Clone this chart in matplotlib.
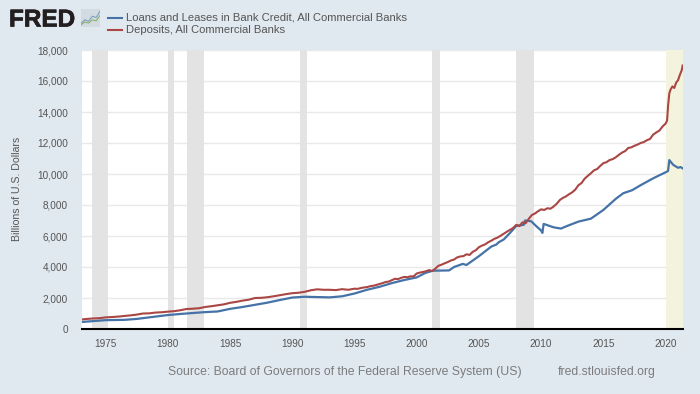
import matplotlib
matplotlib.use('Agg')
import matplotlib.pyplot as plt
import matplotlib.patheffects as pe

plt.rcParams['font.family'] = ['Liberation Sans', 'DejaVu Sans']

# --- Values ---
LOANS_YEARS = [1973.0, 1974.0, 1975.0, 1976.5, 1977.5, 1978.5, 1980.0, 1981.0, 1982.0, 1983.0, 1984.0, 1985.0, 1986.0,
               1987.0, 1988.0, 1989.0, 1990.0, 1991.0, 1992.0, 1993.0, 1994.0, 1995.0, 1996.0, 1997.0, 1998.0, 1999.0,
               2000.0, 2000.7, 2001.3, 2002.6, 2003.0, 2003.7, 2004.0, 2005.0, 2006.0, 2006.4, 2006.6, 2007.0, 2007.5,
               2008.0, 2008.6, 2008.7, 2009.2, 2009.6, 2010.0, 2010.1, 2010.2, 2011.0, 2011.6, 2012.0, 2013.0, 2014.0,
               2015.0, 2016.0, 2016.6, 2017.3, 2018.0, 2019.0, 2020.1, 2020.2, 2020.3, 2020.6, 2021.0, 2021.2, 2021.4]
LOANS_VALUES = [450, 510, 570, 590, 650, 750, 900, 970, 1030, 1090, 1130, 1300, 1420,
                1560, 1700, 1870, 2030, 2080, 2060, 2040, 2110, 2290, 2530, 2720, 2960, 3160,
                3330, 3620, 3760, 3780, 4000, 4200, 4130, 4700, 5320, 5450, 5600, 5780, 6200,
                6650, 6720, 7000, 6950, 6640, 6350, 6200, 6780, 6560, 6480, 6620, 6930, 7120,
                7680, 8400, 8760, 8950, 9280, 9720, 10150, 10200, 10900, 10600, 10400, 10450, 10350]

# half-yearly to 1994, quarterly from 1995, then the 2020 jump point by point
DEPOSITS_YEARS = ([1973 + i * 0.5 for i in range(44)]
                  + [1995 + i * 0.25 for i in range(101)]
                  + [2020.12, 2020.2, 2020.3, 2020.4, 2020.55, 2020.7, 2020.85, 2021.0, 2021.15, 2021.3, 2021.37])
DEPOSITS_VALUES = [610, 650, 680, 700, 750, 770, 800, 840, 880, 930, 1000, 1010, 1060, 1080, 1120, 1150,
                   1210, 1290, 1310, 1340, 1420, 1470, 1530, 1590, 1690, 1750, 1830, 1890, 2000, 2010,
                   2050, 2110, 2180, 2250, 2310, 2340, 2400, 2500, 2560, 2530, 2530, 2510, 2570, 2530,
                   2600, 2590, 2640, 2680, 2700, 2760, 2790, 2840, 2900, 2960, 3030, 3060,
                   3150, 3240, 3220, 3300, 3360, 3340, 3400, 3390, 3580, 3640, 3680, 3730,
                   3800, 3740, 3900, 4080, 4150, 4240, 4320, 4420, 4480, 4620, 4680, 4700,
                   4820, 4780, 4980, 5080, 5280, 5380, 5460, 5600, 5700, 5820, 5900, 6020,
                   6150, 6280, 6400, 6520, 6720, 6640, 6880, 6820, 7100, 7350, 7450, 7600,
                   7720, 7680, 7790, 7760, 7900, 8080, 8320, 8460, 8560, 8700, 8820, 9000,
                   9280, 9420, 9700, 9880, 10050, 10240, 10320, 10520, 10700, 10760, 10900, 10960,
                   11080, 11240, 11380, 11480, 11680, 11720, 11820, 11900, 12000, 12060, 12180, 12260,
                   12540, 12680, 12800, 13060, 13250,
                   13450, 14400, 15200, 15450, 15650, 15550, 15900, 16050, 16400, 16700, 17000]

RECESSIONS = [(1973.9, 1975.2), (1980.0, 1980.5), (1981.5, 1982.9), (1990.6, 1991.2), (2001.2, 2001.9), (2007.95, 2009.4)]
HIGHLIGHT = (2020.0, 2021.4)

X_TICKS = [1975, 1980, 1985, 1990, 1995, 2000, 2005, 2010, 2015, 2020]
Y_TICKS = [0, 2000, 4000, 6000, 8000, 10000, 12000, 14000, 16000, 18000]

BG = '#e1e9f0'
TEXT = '#555555'
BLUE = '#4572a7'
RED = '#aa4643'

W, H = 700, 394
fig = plt.figure(figsize=(W / 100, H / 100), dpi=100, facecolor=BG)

# plot area in pixels: x 82-683, y 50-329
ax = fig.add_axes([82 / W, 1 - 329 / H, (683 - 82) / W, (329 - 50) / H])
ax.set_xlim(1973.1, 2021.4)
ax.set_ylim(0, 18000)

for start, end in RECESSIONS:
    ax.axvspan(start, end, color='#e3e3e3', lw=0, zorder=1)
ax.axvspan(HIGHLIGHT[0], HIGHLIGHT[1], color='#f4f4de', lw=0, zorder=1)

ax.grid(axis='y', color='#e9e9e9', lw=1)
ax.set_axisbelow(True)

ax.plot(LOANS_YEARS, LOANS_VALUES, color=BLUE, lw=1.6, zorder=3, solid_joinstyle='round')
ax.plot(DEPOSITS_YEARS, DEPOSITS_VALUES, color=RED, lw=1.5, zorder=3, solid_joinstyle='round')

for side in ('top', 'right', 'left'):
    ax.spines[side].set_visible(False)
ax.spines['bottom'].set_color('black')
ax.spines['bottom'].set_linewidth(1.5)

ax.set_xticks(X_TICKS)
ax.set_yticks(Y_TICKS)
ax.set_yticklabels([f'{v:,}' for v in Y_TICKS])
ax.tick_params(axis='x', colors=TEXT, labelsize=7.2, length=0, pad=7)
ax.tick_params(axis='y', colors=TEXT, labelsize=7.2, length=0, pad=10)

fig.text(17 / W, 1 - 188.5 / H, 'Billions of U.S. Dollars', fontsize=7.6, color=TEXT,
         rotation=90, ha='center', va='center')

# --- Header: logo and legend ---
logo = fig.text(9 / W, 1 - 26.5 / H, 'FRED', fontsize=17.5, fontweight='bold', color='#231f20', va='baseline')
logo.set_path_effects([pe.withStroke(linewidth=0.5, foreground='#231f20')])

icon = fig.add_axes([81 / W, 1 - 27 / H, 19 / W, 18 / H], facecolor='#d3dbe2')
icon.plot([0, 1, 2, 3, 4, 5], [1, 2, 1.6, 3, 2.6, 4.4], color='#7f9fbf', lw=0.8)
icon.plot([0, 1, 2, 3, 4, 5], [0.6, 1.4, 1.1, 2, 1.7, 3.2], color='#8db26b', lw=0.8)
icon.set_xlim(0, 5)
icon.set_ylim(0, 5)
icon.set_xticks([])
icon.set_yticks([])
for side in icon.spines.values():
    side.set_visible(False)

fig.add_artist(plt.Line2D([108 / W, 122 / W], [1 - 17.5 / H] * 2, color=BLUE, lw=1.5))
fig.add_artist(plt.Line2D([108 / W, 122 / W], [1 - 29.5 / H] * 2, color=RED, lw=1.5))
fig.text(126 / W, 1 - 18 / H, 'Loans and Leases in Bank Credit, All Commercial Banks', fontsize=8.15, color=TEXT, va='center')
fig.text(126 / W, 1 - 30 / H, 'Deposits, All Commercial Banks', fontsize=8.15, color=TEXT, va='center')

# --- Footer ---
fig.text(168 / W, 1 - 372.5 / H, 'Source: Board of Governors of the Federal Reserve System (US)', fontsize=8.8, color='#7b7b7b', va='center')
fig.text(558 / W, 1 - 372.5 / H, 'fred.stlouisfed.org', fontsize=8.8, color='#7b7b7b', va='center')

fig.savefig('out.png', dpi=100, facecolor=BG)
